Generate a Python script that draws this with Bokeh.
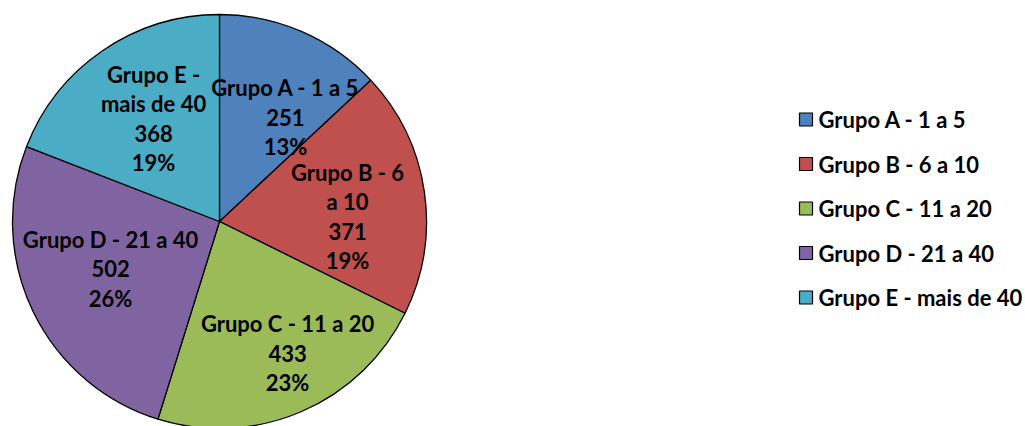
import textwrap

import numpy as np
from bokeh.core.properties import value
from bokeh.embed import file_html
from bokeh.models import ColumnDataSource, Range1d
from bokeh.plotting import figure
from bokeh.resources import INLINE

# --- data -------------------------------------------------------------
categories = [
    "Grupo A - 1 a 5",
    "Grupo B - 6 a 10",
    "Grupo C - 11 a 20",
    "Grupo D - 21 a 40",
    "Grupo E - mais de 40",
]
counts = [251, 371, 433, 502, 368]
colors = ["#4F81BD", "#C0504D", "#9BBB59", "#8064A2", "#4BACC6"]

# --- layout / style ---------------------------------------------------
W, H = 1025, 426
CX, CY, R = 219, H - 221, 207
FONT = value("Lato")
FSIZE = "22px"
LINE_STEP = 29.5
# label wrap width (chars), angular shift (deg, clockwise) and radial factor
wrap_width = [20, 11, 20, 20, 10]
ang_shift = [8.8, 6.2, -4.1, 2.2, 1.8]
rad_fac = [0.597, 0.619, 0.717, 0.574, 0.591]


def percent_labels(vals):
    """Integer percentages that add up to 100 (largest remainder)."""
    vals = np.asarray(vals, dtype=float)
    raw = 100 * vals / vals.sum()
    base = np.floor(raw).astype(int)
    rest = 100 - base.sum()
    order = np.argsort(-(raw - base))
    base[order[:rest]] += 1
    return [f"{b}%" for b in base]


p = figure(
    width=W,
    height=H,
    x_range=Range1d(0, W),
    y_range=Range1d(0, H),
    output_backend="svg",
    toolbar_location=None,
    min_border=0,
)
p.axis.visible = False
p.grid.visible = False
p.outline_line_color = None
p.background_fill_color = "white"
p.border_fill_color = "white"

# --- pie ---------------------------------------------------------------
frac = np.array(counts, dtype=float) / sum(counts)
cum = np.concatenate([[0.0], np.cumsum(frac)])
start = np.pi / 2 - 2 * np.pi * cum[:-1]
end = np.pi / 2 - 2 * np.pi * cum[1:]

pie_src = ColumnDataSource(
    dict(start=start, end=end, color=colors, name=categories, count=counts)
)
p.wedge(
    x=CX,
    y=CY,
    radius=R,
    start_angle="start",
    end_angle="end",
    direction="clock",
    fill_color="color",
    line_color="black",
    line_width=1.3,
    source=pie_src,
)

# --- data labels -------------------------------------------------------
pcts = percent_labels(counts)
lx, ly, lt = [], [], []
for i, name in enumerate(categories):
    mid = 2 * np.pi * (cum[i] + frac[i] / 2) + np.radians(ang_shift[i])
    bx = CX + rad_fac[i] * R * np.sin(mid)
    by = CY + rad_fac[i] * R * np.cos(mid)
    lines = textwrap.wrap(name, wrap_width[i]) + [str(counts[i]), pcts[i]]
    n = len(lines)
    for k, t in enumerate(lines):
        lx.append(bx)
        ly.append(by + ((n - 1) / 2 - k) * LINE_STEP)
        lt.append(t)

p.text(
    x=lx,
    y=ly,
    text=lt,
    text_font=FONT,
    text_font_style="bold",
    text_font_size=FSIZE,
    text_color="black",
    text_align="center",
    text_baseline="middle",
)

# --- legend ------------------------------------------------------------
leg_y = [H - (119 + i * 44.5) for i in range(len(categories))]
p.rect(
    x=[805.5] * len(categories),
    y=leg_y,
    width=13,
    height=13,
    fill_color=colors,
    line_color="black",
    line_width=1.2,
)
p.text(
    x=[818] * len(categories),
    y=leg_y,
    text=categories,
    text_font=FONT,
    text_font_style="bold",
    text_font_size=FSIZE,
    text_color="black",
    text_align="left",
    text_baseline="middle",
)

open("out.html", "w").write(file_html(p, INLINE))
